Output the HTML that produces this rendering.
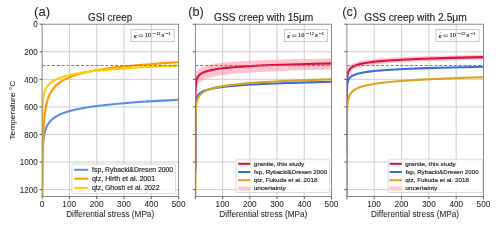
<!DOCTYPE html><html><head><meta charset="utf-8"><style>html,body{margin:0;padding:0;background:#fff;overflow:hidden}svg{display:block;will-change:transform}text{stroke:#262626;stroke-width:.05px}text.lg{stroke-width:.16px}text.tt{stroke-width:.15px}text.m{stroke:#1a1a1a;stroke-width:.14px}</style></head><body><svg width="500" height="228" viewBox="0 0 500 228" font-family="Liberation Sans, sans-serif">
<rect width="500" height="228" fill="#fff"/>
<clipPath id="clip0"><rect x="42.0" y="24.2" width="136.6" height="172.3"/></clipPath>
<path d="M69.40,24.2V196.5 M96.70,24.2V196.5 M124.00,24.2V196.5 M151.30,24.2V196.5 M42.1,51.77H178.6 M42.1,79.34H178.6 M42.1,106.90H178.6 M42.1,134.47H178.6 M42.1,162.04H178.6 M42.1,189.61H178.6" stroke="#c9c9c9" stroke-width="0.9" fill="none"/>
<g clip-path="url(#clip0)">
<path d="M42.11,245.45 L42.14,195.73 L42.24,171.22 L42.49,155.62 L42.69,150.03 L42.96,145.13 L43.32,140.83 L43.80,137.02 L44.48,133.34 L45.16,130.70 L46.17,127.79 L46.85,126.28 L47.53,125.00 L48.88,122.90 L49.56,122.03 L50.58,120.87 L51.59,119.86 L52.95,118.69 L54.30,117.68 L56.00,116.57 L57.69,115.61 L59.38,114.76 L61.42,113.86 L63.45,113.06 L65.82,112.23 L68.19,111.48 L73.61,110.03 L79.70,108.70 L86.48,107.48 L94.27,106.32 L103.07,105.21 L112.90,104.18 L123.73,103.20 L135.59,102.29 L148.80,101.42 L163.02,100.60 L178.60,99.82" stroke="#5a8dea" stroke-width="2.1" fill="none" stroke-linejoin="round"/>
<path d="M42.24,247.02 L42.38,196.34 L42.64,163.32 L42.83,151.43 L43.09,141.04 L43.39,132.66 L43.80,125.03 L44.48,116.77 L45.16,111.21 L45.84,107.10 L46.85,102.50 L47.87,99.04 L48.55,97.15 L49.22,95.50 L49.90,94.05 L50.92,92.14 L52.61,89.53 L53.63,88.21 L54.98,86.66 L56.34,85.31 L58.03,83.83 L59.72,82.54 L61.42,81.40 L63.45,80.18 L65.48,79.10 L67.85,77.99 L70.22,76.99 L72.59,76.09 L75.30,75.17 L78.01,74.33 L81.06,73.48 L87.83,71.86 L95.62,70.32 L104.09,68.93 L113.57,67.63 L124.07,66.42 L135.93,65.26 L148.80,64.18 L163.02,63.16 L178.60,62.20" stroke="#ff9a00" stroke-width="2.1" fill="none" stroke-linejoin="round"/>
<path d="M42.10,208.36 L42.15,127.41 L42.28,114.08 L42.57,105.46 L42.87,101.25 L43.26,97.86 L43.80,94.76 L44.48,92.13 L45.16,90.21 L46.17,88.07 L46.85,86.93 L47.53,85.97 L48.88,84.37 L49.90,83.39 L51.25,82.27 L52.61,81.32 L53.96,80.50 L55.66,79.60 L57.35,78.81 L61.08,77.38 L65.48,76.03 L70.90,74.71 L76.99,73.52 L84.11,72.38 L92.24,71.32 L101.04,70.36 L110.86,69.45 L122.04,68.58 L134.23,67.77 L147.78,67.00 L162.34,66.28 L178.60,65.58" stroke="#ffcf00" stroke-width="2.1" fill="none" stroke-linejoin="round"/>
<path d="M42.1,65.55H178.6" stroke="#7a7a7a" stroke-width="1" stroke-dasharray="3.05 1.81" fill="none"/>
</g>
<rect x="42.1" y="24.2" width="136.5" height="172.3" fill="none" stroke="#7d7d7d" stroke-width="0.9"/>
<path d="M42.10,196.5v2.6 M69.40,196.5v2.6 M96.70,196.5v2.6 M124.00,196.5v2.6 M151.30,196.5v2.6 M178.60,196.5v2.6 M42.1,24.20h-2.6 M42.1,51.77h-2.6 M42.1,79.34h-2.6 M42.1,106.90h-2.6 M42.1,134.47h-2.6 M42.1,162.04h-2.6 M42.1,189.61h-2.6" stroke="#4a4a4a" stroke-width="0.9" fill="none"/>
<text transform="translate(39.79,207.10) scale(0.9700,1)" font-size="8.5" fill="#262626">0</text>
<text transform="translate(62.37,207.10) scale(0.9700,1)" font-size="8.5" fill="#262626">100</text>
<text transform="translate(89.77,207.10) scale(0.9700,1)" font-size="8.5" fill="#262626">200</text>
<text transform="translate(117.12,207.10) scale(0.9700,1)" font-size="8.5" fill="#262626">300</text>
<text transform="translate(144.50,207.10) scale(0.9700,1)" font-size="8.5" fill="#262626">400</text>
<text transform="translate(171.72,207.10) scale(0.9700,1)" font-size="8.5" fill="#262626">500</text>
<text transform="translate(66.19,217.30) scale(0.9921,1)" font-size="8.3" fill="#262626" >Differential stress (MPa)</text>
<clipPath id="clip1"><rect x="195.3" y="24.2" width="136.2" height="172.3"/></clipPath>
<path d="M222.62,24.2V196.5 M249.84,24.2V196.5 M277.06,24.2V196.5 M304.28,24.2V196.5 M195.4,51.77H331.5 M195.4,79.34H331.5 M195.4,106.90H331.5 M195.4,134.47H331.5 M195.4,162.04H331.5 M195.4,189.61H331.5" stroke="#c9c9c9" stroke-width="0.9" fill="none"/>
<g clip-path="url(#clip1)">
<path d="M195.40,141.43 L195.42,89.52 L195.50,82.40 L195.68,78.02 L195.89,75.88 L196.17,74.13 L196.56,72.65 L197.10,71.29 L197.77,70.14 L198.45,69.31 L199.46,68.37 L200.48,67.65 L201.49,67.08 L202.50,66.60 L204.87,65.71 L207.90,64.88 L211.62,64.11 L216.01,63.42 L221.07,62.80 L227.15,62.21 L233.91,61.68 L241.67,61.18 L250.79,60.70 L272.40,59.83 L299.08,59.06 L331.50,58.38 L331.50,69.39 L298.07,70.33 L283.55,70.85 L270.72,71.40 L259.23,71.98 L249.10,72.59 L239.99,73.27 L232.22,73.97 L225.46,74.72 L219.39,75.58 L214.32,76.50 L210.27,77.46 L206.89,78.50 L205.20,79.15 L203.85,79.77 L202.50,80.51 L201.49,81.17 L200.48,81.97 L199.80,82.60 L198.79,83.78 L198.11,84.81 L197.44,86.17 L196.76,88.14 L196.33,90.08 L196.02,92.23 L195.78,94.94 L195.62,98.11 L195.48,104.87 L195.42,116.13 L195.40,203.63Z" fill="#ff8a9c" fill-opacity="0.5" stroke="none"/>
<path d="M195.40,166.74 L195.42,100.98 L195.49,92.25 L195.65,86.96 L195.81,84.50 L196.04,82.53 L196.36,80.75 L196.76,79.26 L197.44,77.61 L198.11,76.48 L199.12,75.25 L200.14,74.35 L201.15,73.63 L202.16,73.04 L204.53,71.97 L207.57,70.96 L210.94,70.13 L215.33,69.29 L220.40,68.55 L226.48,67.85 L233.23,67.22 L241.00,66.64 L250.12,66.08 L260.25,65.56 L271.73,65.07 L298.74,64.18 L331.50,63.38" stroke="#d9123f" stroke-width="2.1" fill="none" stroke-linejoin="round"/>
<path d="M195.40,172.65 L195.43,116.92 L195.52,109.14 L195.73,104.20 L195.94,102.00 L196.24,100.11 L196.62,98.51 L197.10,97.15 L197.77,95.80 L198.79,94.41 L199.80,93.41 L201.15,92.40 L203.18,91.29 L205.88,90.22 L209.26,89.23 L212.97,88.40 L217.36,87.64 L222.76,86.90 L228.84,86.23 L235.60,85.63 L243.36,85.06 L252.48,84.50 L262.61,83.98 L273.75,83.50 L299.76,82.61 L331.50,81.81" stroke="#3d68e0" stroke-width="2.1" fill="none" stroke-linejoin="round"/>
<path d="M195.40,245.21 L195.42,137.12 L195.48,122.93 L195.62,114.60 L195.78,110.61 L196.02,107.23 L196.33,104.54 L196.76,102.15 L197.44,99.70 L198.11,98.03 L198.79,96.77 L199.80,95.31 L200.48,94.54 L201.49,93.56 L202.50,92.75 L203.85,91.85 L205.20,91.09 L206.89,90.30 L208.58,89.62 L210.27,89.03 L214.32,87.87 L219.39,86.75 L225.46,85.71 L232.22,84.80 L239.99,83.95 L249.10,83.14 L259.23,82.40 L270.72,81.70 L283.55,81.05 L298.07,80.42 L313.94,79.84 L331.50,79.28" stroke="#dca21f" stroke-width="2.1" fill="none" stroke-linejoin="round"/>
<path d="M195.4,65.55H331.5" stroke="#7a7a7a" stroke-width="1" stroke-dasharray="3.05 1.81" fill="none"/>
</g>
<rect x="195.4" y="24.2" width="136.1" height="172.3" fill="none" stroke="#7d7d7d" stroke-width="0.9"/>
<path d="M195.40,196.5v2.6 M222.62,196.5v2.6 M249.84,196.5v2.6 M277.06,196.5v2.6 M304.28,196.5v2.6 M331.50,196.5v2.6 M195.4,24.20h-2.6 M195.4,51.77h-2.6 M195.4,79.34h-2.6 M195.4,106.90h-2.6 M195.4,134.47h-2.6 M195.4,162.04h-2.6 M195.4,189.61h-2.6" stroke="#4a4a4a" stroke-width="0.9" fill="none"/>
<text transform="translate(215.59,207.10) scale(0.9700,1)" font-size="8.5" fill="#262626">100</text>
<text transform="translate(242.91,207.10) scale(0.9700,1)" font-size="8.5" fill="#262626">200</text>
<text transform="translate(270.18,207.10) scale(0.9700,1)" font-size="8.5" fill="#262626">300</text>
<text transform="translate(297.48,207.10) scale(0.9700,1)" font-size="8.5" fill="#262626">400</text>
<text transform="translate(324.62,207.10) scale(0.9700,1)" font-size="8.5" fill="#262626">500</text>
<text transform="translate(219.29,217.30) scale(0.9921,1)" font-size="8.3" fill="#262626" >Differential stress (MPa)</text>
<clipPath id="clip2"><rect x="346.79999999999995" y="24.2" width="136.70000000000002" height="172.3"/></clipPath>
<path d="M374.22,24.2V196.5 M401.54,24.2V196.5 M428.86,24.2V196.5 M456.18,24.2V196.5 M346.9,51.77H483.5 M346.9,79.34H483.5 M346.9,106.90H483.5 M346.9,134.47H483.5 M346.9,162.04H483.5 M346.9,189.61H483.5" stroke="#c9c9c9" stroke-width="0.9" fill="none"/>
<g clip-path="url(#clip2)">
<path d="M346.90,142.23 L346.92,86.72 L347.00,79.33 L347.17,74.82 L347.37,72.52 L347.67,70.64 L348.06,69.13 L348.60,67.75 L349.28,66.59 L349.96,65.75 L350.98,64.80 L351.99,64.08 L353.01,63.50 L354.03,63.01 L356.40,62.13 L359.45,61.29 L363.18,60.52 L367.59,59.83 L372.67,59.21 L378.77,58.61 L385.55,58.08 L393.34,57.58 L402.50,57.10 L424.19,56.24 L450.96,55.48 L483.50,54.79 L483.50,59.60 L450.62,60.40 L423.51,61.29 L411.99,61.78 L401.82,62.29 L392.67,62.86 L384.87,63.44 L378.09,64.07 L371.99,64.77 L366.91,65.52 L362.50,66.35 L359.11,67.19 L356.06,68.20 L353.69,69.28 L352.67,69.88 L351.66,70.60 L350.64,71.52 L349.62,72.76 L348.94,73.91 L348.27,75.59 L347.86,77.10 L347.54,78.92 L347.30,81.06 L347.14,83.59 L346.98,89.21 L346.92,98.34 L346.90,169.75Z" fill="#ff8a9c" fill-opacity="0.5" stroke="none"/>
<path d="M346.90,155.18 L346.92,92.58 L346.99,84.33 L347.15,79.21 L347.31,76.91 L347.54,75.06 L347.86,73.39 L348.27,72.00 L348.94,70.46 L349.62,69.39 L350.64,68.25 L351.66,67.40 L352.67,66.73 L353.69,66.18 L356.06,65.18 L359.11,64.24 L362.50,63.46 L366.91,62.68 L371.99,61.99 L378.09,61.33 L384.87,60.75 L392.67,60.21 L401.82,59.68 L411.99,59.20 L423.51,58.74 L450.62,57.91 L483.50,57.17" stroke="#d9123f" stroke-width="2.1" fill="none" stroke-linejoin="round"/>
<path d="M346.90,142.18 L346.93,96.03 L347.02,89.56 L347.23,85.45 L347.44,83.61 L347.74,82.04 L348.13,80.70 L348.60,79.57 L349.28,78.45 L350.30,77.29 L351.32,76.45 L352.67,75.61 L354.71,74.68 L357.42,73.78 L360.81,72.96 L364.53,72.27 L368.94,71.63 L374.36,71.01 L380.46,70.46 L387.24,69.95 L395.04,69.47 L404.19,69.01 L425.54,68.17 L451.64,67.43 L483.50,66.76" stroke="#3d68e0" stroke-width="2.1" fill="none" stroke-linejoin="round"/>
<path d="M346.90,245.33 L346.92,133.44 L346.97,119.61 L347.11,111.42 L347.26,107.60 L347.49,104.36 L347.81,101.62 L348.23,99.32 L348.60,97.87 L348.94,96.83 L349.62,95.23 L350.30,94.02 L351.32,92.63 L351.99,91.89 L353.01,90.96 L354.03,90.18 L355.38,89.32 L356.74,88.59 L358.43,87.83 L360.13,87.18 L361.82,86.61 L365.89,85.50 L370.97,84.43 L377.08,83.43 L383.85,82.55 L391.65,81.74 L400.80,80.96 L410.97,80.25 L422.49,79.58 L435.37,78.95 L449.95,78.34 L465.88,77.78 L483.50,77.25" stroke="#dca21f" stroke-width="2.1" fill="none" stroke-linejoin="round"/>
<path d="M346.9,65.55H483.5" stroke="#7a7a7a" stroke-width="1" stroke-dasharray="3.05 1.81" fill="none"/>
</g>
<rect x="346.9" y="24.2" width="136.60000000000002" height="172.3" fill="none" stroke="#7d7d7d" stroke-width="0.9"/>
<path d="M346.90,196.5v2.6 M374.22,196.5v2.6 M401.54,196.5v2.6 M428.86,196.5v2.6 M456.18,196.5v2.6 M483.50,196.5v2.6 M346.9,24.20h-2.6 M346.9,51.77h-2.6 M346.9,79.34h-2.6 M346.9,106.90h-2.6 M346.9,134.47h-2.6 M346.9,162.04h-2.6 M346.9,189.61h-2.6" stroke="#4a4a4a" stroke-width="0.9" fill="none"/>
<text transform="translate(367.19,207.10) scale(0.9700,1)" font-size="8.5" fill="#262626">100</text>
<text transform="translate(394.61,207.10) scale(0.9700,1)" font-size="8.5" fill="#262626">200</text>
<text transform="translate(421.98,207.10) scale(0.9700,1)" font-size="8.5" fill="#262626">300</text>
<text transform="translate(449.38,207.10) scale(0.9700,1)" font-size="8.5" fill="#262626">400</text>
<text transform="translate(476.62,207.10) scale(0.9700,1)" font-size="8.5" fill="#262626">500</text>
<text transform="translate(371.04,217.30) scale(0.9921,1)" font-size="8.3" fill="#262626" >Differential stress (MPa)</text>
<text transform="translate(33.20,27.45) scale(0.9500,1)" font-size="8.5" fill="#262626">0</text>
<text transform="translate(24.24,55.02) scale(0.9500,1)" font-size="8.5" fill="#262626">200</text>
<text transform="translate(24.24,82.59) scale(0.9500,1)" font-size="8.5" fill="#262626">400</text>
<text transform="translate(24.24,110.15) scale(0.9500,1)" font-size="8.5" fill="#262626">600</text>
<text transform="translate(24.24,137.72) scale(0.9500,1)" font-size="8.5" fill="#262626">800</text>
<text transform="translate(19.72,165.29) scale(0.9500,1)" font-size="8.5" fill="#262626">1000</text>
<text transform="translate(19.72,192.86) scale(0.9500,1)" font-size="8.5" fill="#262626">1200</text>
<g transform="translate(14.5,110.2) rotate(-90)"><text transform="translate(-29.47,0.00) scale(1.0802,1)" font-size="7.8" fill="#262626" >Temperature °C</text></g>
<text transform="translate(88.01,20.50) scale(0.9604,1)" font-size="10.2" fill="#262626" class="tt">GSI creep</text>
<text transform="translate(214.09,20.50) scale(0.9992,1)" font-size="10.2" fill="#262626" class="tt">GSS creep with 15μm</text>
<text transform="translate(364.29,20.50) scale(1.0031,1)" font-size="10.2" fill="#262626" class="tt">GSS creep with 2.5μm</text>
<text transform="translate(34.11,15.60) scale(1.0390,1)" font-size="12.6" fill="#262626" >(a)</text>
<text transform="translate(188.24,15.60) scale(1.0101,1)" font-size="12.6" fill="#262626" >(b)</text>
<text transform="translate(342.23,15.60) scale(1.0177,1)" font-size="12.6" fill="#262626" >(c)</text>
<rect x="71.9" y="164.1" width="103.69999999999999" height="29.5" rx="1.5" fill="#fff" fill-opacity="0.8" stroke="#d0d0d0" stroke-width="0.8"/>
<path d="M74.1,169.8H88.2" stroke="#5a8dea" stroke-width="2"/>
<text transform="translate(92.10,172.20) scale(1.0384,1)" font-size="6.6" fill="#262626" class="lg">fsp, Rybacki&amp;Dresen 2000</text>
<path d="M74.1,178.7H88.2" stroke="#ff9a00" stroke-width="2"/>
<text transform="translate(91.92,181.10) scale(1.0733,1)" font-size="6.6" fill="#262626" class="lg">qtz, Hirth et al. 2001</text>
<path d="M74.1,187.8H88.2" stroke="#ffcf00" stroke-width="2"/>
<text transform="translate(91.92,190.20) scale(1.0487,1)" font-size="6.6" fill="#262626" class="lg">qtz, Ghosh et al. 2022</text>
<rect x="236.0" y="159.2" width="93.5" height="33.30000000000001" rx="1.5" fill="#fff" fill-opacity="0.8" stroke="#d0d0d0" stroke-width="0.8"/>
<path d="M238.1,163.8H250.4" stroke="#d9123f" stroke-width="2"/>
<text transform="translate(253.84,165.70) scale(1.1314,1)" font-size="5.7" fill="#262626" class="lg">granite, this study</text>
<path d="M238.1,172.0H250.4" stroke="#3d68e0" stroke-width="2"/>
<text transform="translate(254.01,173.90) scale(1.0833,1)" font-size="5.7" fill="#262626" class="lg">fsp, Rybacki&amp;Dresen 2000</text>
<path d="M238.1,180.2H250.4" stroke="#dca21f" stroke-width="2"/>
<text transform="translate(253.85,182.10) scale(1.0989,1)" font-size="5.7" fill="#262626" class="lg">qtz, Fukuda et al. 2018</text>
<rect x="238.1" y="186.5" width="12.300000000000011" height="4" fill="#ffc7cf"/>
<text transform="translate(253.67,190.40) scale(1.1563,1)" font-size="5.7" fill="#262626" class="lg">uncertainty</text>
<rect x="388.2" y="159.2" width="94.5" height="33.30000000000001" rx="1.5" fill="#fff" fill-opacity="0.8" stroke="#d0d0d0" stroke-width="0.8"/>
<path d="M389.6,163.8H401.90000000000003" stroke="#d9123f" stroke-width="2"/>
<text transform="translate(405.34,165.70) scale(1.1314,1)" font-size="5.7" fill="#262626" class="lg">granite, this study</text>
<path d="M389.6,172.0H401.90000000000003" stroke="#3d68e0" stroke-width="2"/>
<text transform="translate(405.51,173.90) scale(1.0833,1)" font-size="5.7" fill="#262626" class="lg">fsp, Rybacki&amp;Dresen 2000</text>
<path d="M389.6,180.2H401.90000000000003" stroke="#dca21f" stroke-width="2"/>
<text transform="translate(405.35,182.10) scale(1.0989,1)" font-size="5.7" fill="#262626" class="lg">qtz, Fukuda et al. 2018</text>
<rect x="389.6" y="186.5" width="12.300000000000011" height="4" fill="#ffc7cf"/>
<text transform="translate(405.17,190.40) scale(1.1563,1)" font-size="5.7" fill="#262626" class="lg">uncertainty</text>
<rect x="131.0" y="29.4" width="43.19999999999999" height="12.2" fill="none" stroke="#bdbdbd" stroke-width="0.8"/>
<text class="m" transform="translate(133.87,37.50) scale(1.0,1)" font-size="7.0" fill="#1a1a1a" font-family="Liberation Serif, serif" font-style="italic">ϵ</text>
<circle cx="136.00" cy="32.3" r="0.5" fill="#777"/>
<path d="M138.40,35.0h4.7M138.40,36.6h4.7" stroke="#333" stroke-width="0.55"/>
<text class="m" transform="translate(144.66,37.40) scale(1.0,1)" font-size="6.4" fill="#1a1a1a" font-family="Liberation Serif, serif">10</text>
<path d="M152.60,33.5h3.0M165.40,33.5h2.9" stroke="#333" stroke-width="0.7"/>
<text class="m" transform="translate(156.19,34.60) scale(1.0,1)" font-size="4.3" fill="#1a1a1a" font-family="Liberation Serif, serif">12</text>
<text class="m" transform="translate(161.59,37.40) scale(1.15,1)" font-size="6.2" fill="#1a1a1a" font-family="Liberation Serif, serif">s</text>
<text class="m" transform="translate(168.47,34.60) scale(1.0,1)" font-size="4.3" fill="#1a1a1a" font-family="Liberation Serif, serif">1</text>
<rect x="284.4" y="29.4" width="43.10000000000002" height="12.2" fill="none" stroke="#bdbdbd" stroke-width="0.8"/>
<text class="m" transform="translate(287.27,37.50) scale(1.0,1)" font-size="7.0" fill="#1a1a1a" font-family="Liberation Serif, serif" font-style="italic">ϵ</text>
<circle cx="289.40" cy="32.3" r="0.5" fill="#777"/>
<path d="M291.80,35.0h4.7M291.80,36.6h4.7" stroke="#333" stroke-width="0.55"/>
<text class="m" transform="translate(298.06,37.40) scale(1.0,1)" font-size="6.4" fill="#1a1a1a" font-family="Liberation Serif, serif">10</text>
<path d="M306.00,33.5h3.0M318.80,33.5h2.9" stroke="#333" stroke-width="0.7"/>
<text class="m" transform="translate(309.59,34.60) scale(1.0,1)" font-size="4.3" fill="#1a1a1a" font-family="Liberation Serif, serif">12</text>
<text class="m" transform="translate(314.99,37.40) scale(1.15,1)" font-size="6.2" fill="#1a1a1a" font-family="Liberation Serif, serif">s</text>
<text class="m" transform="translate(321.87,34.60) scale(1.0,1)" font-size="4.3" fill="#1a1a1a" font-family="Liberation Serif, serif">1</text>
<rect x="435.9" y="29.4" width="43.200000000000045" height="12.2" fill="none" stroke="#bdbdbd" stroke-width="0.8"/>
<text class="m" transform="translate(438.77,37.50) scale(1.0,1)" font-size="7.0" fill="#1a1a1a" font-family="Liberation Serif, serif" font-style="italic">ϵ</text>
<circle cx="440.90" cy="32.3" r="0.5" fill="#777"/>
<path d="M443.30,35.0h4.7M443.30,36.6h4.7" stroke="#333" stroke-width="0.55"/>
<text class="m" transform="translate(449.56,37.40) scale(1.0,1)" font-size="6.4" fill="#1a1a1a" font-family="Liberation Serif, serif">10</text>
<path d="M457.50,33.5h3.0M470.30,33.5h2.9" stroke="#333" stroke-width="0.7"/>
<text class="m" transform="translate(461.09,34.60) scale(1.0,1)" font-size="4.3" fill="#1a1a1a" font-family="Liberation Serif, serif">12</text>
<text class="m" transform="translate(466.49,37.40) scale(1.15,1)" font-size="6.2" fill="#1a1a1a" font-family="Liberation Serif, serif">s</text>
<text class="m" transform="translate(473.37,34.60) scale(1.0,1)" font-size="4.3" fill="#1a1a1a" font-family="Liberation Serif, serif">1</text>
</svg></body></html>
